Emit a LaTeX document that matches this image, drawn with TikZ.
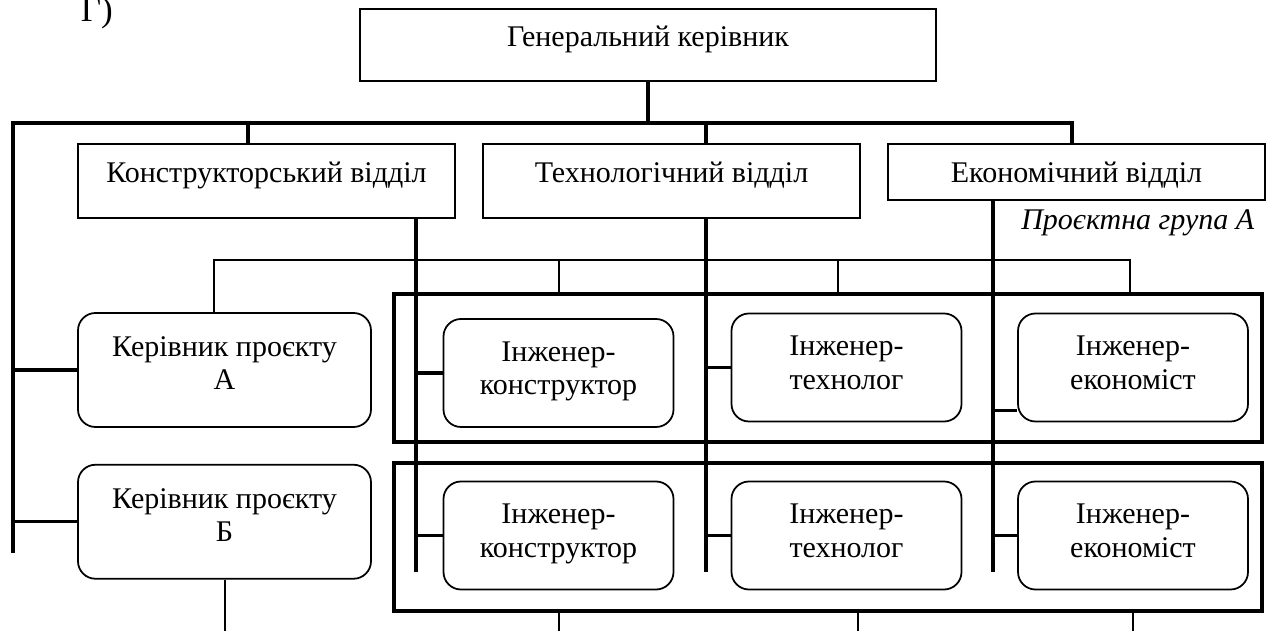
\documentclass[tikz,border=0pt]{standalone}
\usepackage{fontspec}
\setmainfont{Liberation Serif}
\usepackage{xcolor}
\usepackage{tikz}
\usetikzlibrary{positioning}

\begin{document}
\begin{tikzpicture}[x=0.4pt,y=-0.4pt,node distance=14.4pt,
		font=\fontsize{12}{13.4}\selectfont,
		dept/.style={
			% The shape:
			rectangle,minimum width=150.8pt,minimum height=29.6pt,
			text height=8.4pt,text depth=6.8pt,
			% The rest
			line width=0.8pt,draw=black,fill=white},
		member/.style={
			% The shape:
			rectangle,minimum width=92pt,minimum height=43.2pt,rounded corners=7pt,
			align=center,text height=21.8pt,text depth=4.2pt,
			% The rest
			line width=0.7pt,draw=black,fill=white},
		lead/.style={member,minimum width=117.2pt,minimum height=45.6pt,text depth=5.8pt},
		group/.style={rectangle,minimum width=347.2pt,minimum height=59.2pt,
			line width=1.3pt,draw=black},
		trunk/.style={line width=1.3pt},
		twig/.style={line width=0.8pt}]
		\useasboundingbox (0,0) rectangle (1268,631);

		\node (c_tag)		[anchor=base west,font=\fontsize{14}{16}\selectfont] at (72,22) {Г)};
		\node (c_gen)		[dept,minimum width=230.4pt,minimum height=28.8pt] at (648,45) {Генеральний керівник};
		\node (c_kd)		[dept] at (266.5,181) {Конструкторський відділ};
		\node (c_td)		[dept,right=10.4pt of c_kd] {Технологічний відділ};
		\node (c_ed)		[dept,minimum height=22.4pt,text depth=0pt,
							right=10.4pt of c_td.north east,anchor=north west] {Економічний відділ};

		% project groups
		\node (c_grpA)		[group] at (828,368) {};
		\node (c_grpB)		[group] at (828,537) {};
		\node (c_grpLbl)	[anchor=base east,font=\fontsize{12}{13.4}\selectfont\itshape] at (1263,230) {Проєктна група А};

		\node (c_leadA)		[lead] at (224.5,370) {Керівник проєкту\\А};
		\node (c_leadB)		[lead,below=14.4pt of c_leadA] {Керівник проєкту\\Б};

		\node (c_kA)		[member] at (558.5,373) {Інженер-\\конструктор};
		\node (c_tA)		[member] at (846.5,367.5) {Інженер-\\технолог};
		\node (c_eA)		[member] at (1133,367.5) {Інженер-\\економіст};
		\node (c_kB)		[member] at (558.5,535.5) {Інженер-\\конструктор};
		\node (c_tB)		[member] at (846.5,535.5) {Інженер-\\технолог};
		\node (c_eB)		[member] at (1133,535.5) {Інженер-\\економіст};

		% thick lines
		\coordinate (c_busL) at (13,123);
		\coordinate (c_busR) at (1072,123);
		\coordinate (c_leftEnd) at (13,553);
		\coordinate (c_kEnd) at (416,572);
		\coordinate (c_tEnd) at (706,572);
		\coordinate (c_eEnd) at (993,572);
		\draw[trunk] (c_gen.south) -- (c_gen.south |- c_busL);
		\draw[trunk] (c_leftEnd) -- (c_busL) -- (c_busR) -- (c_ed.north -| c_busR);
		\draw[trunk] (c_busL -| 248,0) -- (c_kd.north -| 248,0);
		\draw[trunk] (c_busL -| c_tEnd) -- (c_td.north -| c_tEnd);
		\draw[trunk] (c_leadA.west) -- (c_leadA.west -| c_busL);
		\draw[trunk] (c_leadB.west) -- (c_leadB.west -| c_busL);

		\draw[trunk] (c_kd.south -| c_kEnd) -- (c_kEnd);
		\draw[trunk] (c_kA.west) -- (c_kA.west -| c_kEnd);
		\draw[trunk] (c_kB.west) -- (c_kB.west -| c_kEnd);
		\draw[trunk] (c_td.south -| c_tEnd) -- (c_tEnd);
		\draw[trunk] (c_tA.west) -- (c_tA.west -| c_tEnd);
		\draw[trunk] (c_tB.west) -- (c_tB.west -| c_tEnd);
		\draw[trunk] (c_ed.south -| c_eEnd) -- (c_eEnd);
		\draw[trunk] (c_eA.south west) ++(0,-12) coordinate (c_eTap) -- (c_eTap -| c_eEnd);
		\draw[trunk] (c_eB.west) -- (c_eB.west -| c_eEnd);

		% thin lines
		\coordinate (c_twigL) at (214,260);
		\coordinate (c_twigR) at (1130,260);
		\coordinate (c_twigT) at (838,260);
		\coordinate (c_botT) at (858,631);
		\draw[twig] (c_leadA.north -| c_twigL) -- (c_twigL) -- (c_twigR) -- (c_twigR |- c_grpA.north);
		\draw[twig] (c_kA.north |- c_twigL) -- (c_kA.north |- c_grpA.north);
		\draw[twig] (c_twigT) -- (c_twigT |- c_grpA.north);
		\draw[twig] (c_leadB.south) -- (c_leadB.south |- c_botT);
		\draw[twig] (c_kB.south |- c_grpB.south) -- (c_kB.south |- c_botT);
		\draw[twig] (c_botT |- c_grpB.south) -- (c_botT);
		\draw[twig] (c_eB.south |- c_grpB.south) -- (c_eB.south |- c_botT);
	\end{tikzpicture}
\end{document}
